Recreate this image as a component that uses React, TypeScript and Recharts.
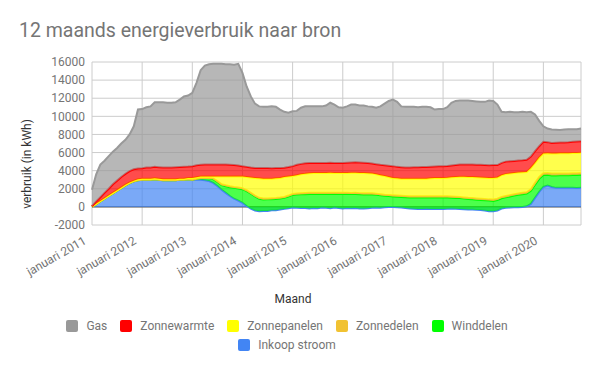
import { AreaChart, Area, XAxis, YAxis, CartesianGrid } from 'recharts'

const jaren = [2011, 2012, 2013, 2014, 2015, 2016, 2017, 2018, 2019, 2020]
const yTicks = [-2000, 0, 2000, 4000, 6000, 8000, 10000, 12000, 14000, 16000]

// 12-maands totalen in kWh, één waarde per maand vanaf januari 2011
const inkoopStroom = [
  30, 300, 600, 900, 1200, 1500, 1780, 2080, 2370, 2620, 2820, 2950, 3000, 3000, 3000, 3050, 3000, 2950, 2950, 2950, 2950, 3000, 3000, 3050,
  3000, 3000, 3000, 2950, 2850, 2650, 2300, 1900, 1550, 1200, 900, 700, 450, 100, -200, -400, -480, -450, -450, -380, -370, -300, -220, -150,
  -80, -100, -120, -120, -180, -120, -140, -70, -100, -140, -70, -120, -180, -120, -140, -120, -180, -180, -140, -100, -70, -100, -50, -20,
  0, -50, -70, -120, -180, -200, -220, -220, -200, -220, -240, -220, -220, -200, -180, -200, -220, -250, -300, -300, -330, -350, -400, -480,
  -480, -400, -180, -100, -70, -50, -50, 0, 70, 330, 1000, 1650, 2200, 2350, 2200, 2100, 2100, 2120, 2100, 2100, 2080, 2100,
]
const winddelen = [
  0, 0, 0, 0, 0, 0, 0, 0, 0, 0, 0, 0, 0, 0, 0, 0, 0, 0, 0, 0, 0, 0, 0, 0,
  0, 100, 200, 250, 300, 420, 450, 500, 730, 980, 1200, 1340, 1510, 1640, 1650, 1550, 1380, 1270, 1280, 1230, 1250, 1230, 1220, 1300,
  1400, 1470, 1520, 1520, 1610, 1550, 1570, 1500, 1530, 1570, 1520, 1550, 1610, 1550, 1550, 1550, 1580, 1560, 1520, 1480, 1400, 1380, 1280, 1210,
  1160, 1170, 1160, 1190, 1230, 1250, 1270, 1270, 1250, 1270, 1290, 1270, 1270, 1240, 1200, 1190, 1190, 1170, 1170, 1140, 1130, 1120, 1140, 1180,
  1140, 1150, 1130, 1150, 1220, 1300, 1380, 1400, 1400, 1440, 1450, 1450, 1320, 1200, 1280, 1380, 1400, 1380, 1400, 1420, 1440, 1440,
]
const zonnedelen = [
  0, 0, 0, 0, 0, 0, 0, 0, 0, 0, 0, 0, 0, 0, 0, 0, 0, 0, 0, 0, 0, 0, 0, 0,
  0, 0, 0, 0, 50, 80, 100, 100, 100, 100, 100, 100, 100, 100, 100, 100, 100, 100, 100, 100, 100, 100, 100, 100,
  100, 100, 100, 120, 120, 120, 120, 120, 120, 120, 120, 120, 120, 120, 120, 120, 120, 120, 120, 120, 120, 120, 120, 130,
  130, 130, 130, 130, 130, 130, 130, 130, 130, 130, 130, 130, 130, 130, 130, 130, 130, 130, 130, 130, 130, 130, 130, 130,
  150, 150, 150, 150, 150, 150, 150, 150, 150, 180, 200, 200, 200, 200, 200, 200, 200, 200, 200, 200, 200, 200,
]
const zonnepanelen = [
  20, 50, 50, 50, 50, 50, 70, 70, 80, 80, 80, 100, 100, 100, 100, 100, 100, 100, 100, 100, 100, 100, 120, 130,
  200, 180, 150, 150, 150, 200, 500, 850, 970, 1070, 1150, 1210, 1290, 1460, 1700, 1950, 2150, 2180, 2170, 2150, 2170, 2170, 2200, 2100,
  1980, 2030, 2100, 2130, 2170, 2200, 2200, 2200, 2200, 2220, 2180, 2200, 2180, 2200, 2240, 2230, 2230, 2230, 2220, 2200, 2150, 2100, 2050, 1980,
  1910, 1900, 1880, 1900, 1920, 1920, 1920, 1920, 1920, 1970, 2020, 2020, 2020, 2050, 2130, 2180, 2220, 2270, 2300, 2330, 2350, 2350, 2350, 2370,
  2390, 2350, 2400, 2420, 2400, 2350, 2320, 2270, 2230, 2350, 2200, 2150, 2180, 2180, 2220, 2220, 2220, 2230, 2230, 2230, 2230, 2230,
]
const zonnewarmte = [
  20, 250, 420, 600, 750, 950, 1050, 1150, 1200, 1250, 1250, 1200, 1180, 1250, 1250, 1270, 1280, 1300, 1300, 1300, 1320, 1300, 1300, 1270,
  1300, 1320, 1300, 1330, 1330, 1330, 1330, 1330, 1330, 1300, 1270, 1220, 1150, 1120, 1100, 1100, 1150, 1200, 1200, 1180, 1150, 1100, 1020, 1050,
  1100, 1150, 1150, 1170, 1130, 1110, 1110, 1110, 1110, 1110, 1110, 1110, 1130, 1130, 1130, 1150, 1150, 1150, 1130, 1100, 1120, 1150, 1200, 1250,
  1300, 1270, 1280, 1250, 1250, 1280, 1280, 1300, 1300, 1270, 1250, 1280, 1300, 1300, 1290, 1320, 1360, 1360, 1380, 1380, 1370, 1400, 1400, 1400,
  1420, 1370, 1360, 1380, 1350, 1330, 1320, 1330, 1350, 1250, 1300, 1250, 1300, 1220, 1150, 1180, 1180, 1190, 1220, 1250, 1270, 1280,
]
const gas = [
  1830, 3000, 3610, 3550, 3600, 3600, 3600, 3700, 3750, 4050, 4750, 6500, 6520, 6650, 6750, 7130, 7170, 7200, 7150, 7150, 7180, 7450, 7780, 7850,
  8100, 9100, 10450, 10920, 11070, 11120, 11120, 11120, 11070, 11100, 11080, 11230, 10300, 8880, 7850, 7100, 6800, 6750, 6750, 6820, 6750, 6450, 6180, 6000,
  6050, 5950, 6200, 6280, 6250, 6240, 6240, 6240, 6340, 6620, 6440, 6140, 6090, 6220, 6400, 6370, 6300, 6320, 6250, 6250, 6230, 6450, 6800, 7150,
  7350, 7180, 6720, 6700, 6700, 6670, 6620, 6650, 6650, 6580, 6300, 6320, 6300, 6480, 6930, 7080, 7070, 7070, 7070, 7020, 7000, 6950, 6980, 7150,
  7080, 6680, 5640, 5450, 5450, 5370, 5330, 5350, 5250, 4950, 4050, 2800, 1700, 1500, 1500, 1440, 1400, 1430, 1420, 1370, 1350, 1400,
]

const data = inkoopStroom.map((v, i) => ({
  maand: i,
  inkoop: v,
  wind: winddelen[i],
  zonnedelen: zonnedelen[i],
  zonnepanelen: zonnepanelen[i],
  zonnewarmte: zonnewarmte[i],
  gas: gas[i],
}))

// van onder naar boven gestapeld
const series = [
  { key: 'inkoop', name: 'Inkoop stroom', color: '#4285f4' },
  { key: 'wind', name: 'Winddelen', color: '#00ff00' },
  { key: 'zonnedelen', name: 'Zonnedelen', color: '#f1c232' },
  { key: 'zonnepanelen', name: 'Zonnepanelen', color: '#ffff00' },
  { key: 'zonnewarmte', name: 'Zonnewarmte', color: '#ff0000' },
  { key: 'gas', name: 'Gas', color: '#999999' },
]
const legendOrder = ['gas', 'zonnewarmte', 'zonnepanelen', 'zonnedelen', 'wind', 'inkoop']

const font = 'Roboto, sans-serif'

function MaandTick({ x, y, payload }: any) {
  const jaar = jaren[Math.round(payload.value / 12)]
  return (
    <text
      transform={`translate(${x - 5},${y + 18}) rotate(-30)`}
      textAnchor="end"
      fill="#757575"
      fontSize={12}
      fontFamily={font}
    >
      januari {jaar}
    </text>
  )
}

export default function App() {
  return (
    <div style={{ position: 'absolute', left: 0, top: 0, width: 600, height: 371, background: '#fff', fontFamily: font }}>
      <AreaChart width={600} height={371} data={data} margin={{ top: 62, right: 19, bottom: 0, left: 0 }}>
        <CartesianGrid stroke="#cccccc" />
        <CartesianGrid stroke="#333333" vertical={false} horizontalValues={[0]} />
        <XAxis
          dataKey="maand"
          type="number"
          domain={[0, 117]}
          ticks={jaren.map((j) => (j - jaren[0]) * 12)}
          height={146}
          axisLine={false}
          tickLine={false}
          tickSize={0}
          tickMargin={0}
          tick={<MaandTick />}
          interval={0}
        />
        <YAxis
          width={92}
          domain={[-2000, 16000]}
          ticks={yTicks}
          axisLine={false}
          tickLine={false}
          tickSize={0}
          tickMargin={7}
          interval={0}
          tick={{ fill: '#757575', fontSize: 12, fontFamily: font }}
        />
        {series.map((s) => (
          <Area
            key={s.key}
            dataKey={s.key}
            name={s.name}
            stackId="1"
            type="linear"
            stroke={s.color}
            strokeWidth={2}
            fill={s.color}
            fillOpacity={0.7}
            dot={false}
            activeDot={false}
            isAnimationActive={false}
          />
        ))}
      </AreaChart>

      <svg width={600} height={371} style={{ position: 'absolute', left: 0, top: 0, pointerEvents: 'none' }}>
        <text x={19} y={37} fontSize={19.5} fill="#757575" fontFamily={font}>
          12 maands energieverbruik naar bron
        </text>
        <text x={293} y={303} fontSize={12} fill="#333" fontFamily={font} textAnchor="middle">
          Maand
        </text>
        <text
          transform="translate(31,164) rotate(-90)"
          fontSize={12}
          fill="#333"
          fontFamily={font}
          textAnchor="middle"
        >
          verbruik (in kWh)
        </text>
      </svg>

      <div
        style={{
          position: 'absolute',
          left: 57,
          top: 319,
          width: 460,
          display: 'flex',
          flexWrap: 'wrap',
          justifyContent: 'center',
          columnGap: 13,
          rowGap: 5,
        }}
      >
        {legendOrder.map((k) => {
          const s = series.find((x) => x.key === k)!
          return (
            <div key={k} style={{ display: 'flex', alignItems: 'center', height: 14 }}>
              <div style={{ width: 12, height: 12, borderRadius: 2, background: s.color, marginRight: 8 }} />
              <span style={{ fontSize: 12, lineHeight: '14px', color: '#757575' }}>{s.name}</span>
            </div>
          )
        })}
      </div>
    </div>
  )
}
